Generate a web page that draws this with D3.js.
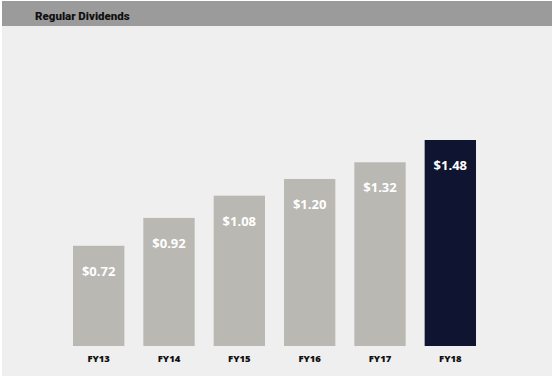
<!DOCTYPE html>
<meta charset="utf-8">
<style>
body { margin: 0; background: #fff; }
text.value {
  font-family: "Open Sans", sans-serif;
  font-weight: 700;
  font-size: 13px;
  fill: #fff;
}
text.tick {
  font-family: "Open Sans", sans-serif;
  font-weight: 800;
  font-size: 9.5px;
  fill: #111;
}
text.title {
  font-family: Roboto, sans-serif;
  font-weight: 900;
  font-size: 11.5px;
  fill: #111;
}
</style>
<svg width="552" height="376"></svg>
<script src="https://cdn.jsdelivr.net/npm/d3@7"></script>
<script>
const years = ["FY13", "FY14", "FY15", "FY16", "FY17", "FY18"]
const dividends = [0.72, 0.92, 1.08, 1.20, 1.32, 1.48]
const highlight = "FY18"

const data = years.map((y, i) => ({year: y, value: dividends[i]}))

var svg = d3.select("svg"),
    width = +svg.attr("width"),
    height = +svg.attr("height")

// panel background
svg.append("rect")
    .attr("x", 2).attr("y", 1)
    .attr("width", width - 2).attr("height", height - 1)
    .attr("fill", "#efefef")

// header band
svg.append("rect")
    .attr("x", 2).attr("y", 1)
    .attr("width", width - 2).attr("height", 25)
    .attr("fill", "#9c9b9b")

svg.append("text")
    .classed("title", true)
    .attr("x", 35)
    .attr("y", 20)
    .text("Regular Dividends")

var x = d3.scaleBand()
    .domain(years)
    .range([73, 476])
    .paddingInner(0.27)
    .paddingOuter(0)

var y = d3.scaleLinear()
    .domain([0, 1.48])
    .range([346, 140])

const bars = svg.append("g")
  .selectAll("g")
  .data(data)
  .enter().append("g")

bars.append("rect")
    .attr("x", d => x(d.year))
    .attr("y", d => y(d.value))
    .attr("width", x.bandwidth())
    .attr("height", d => y(0) - y(d.value))
    .attr("fill", d => d.year === highlight ? "#0f1530" : "#b9b8b3")

bars.append("text")
    .classed("value", true)
    .attr("x", d => x(d.year) + x.bandwidth() / 2)
    .attr("y", d => y(d.value) + 30)
    .attr("text-anchor", "middle")
    .text(d => "$" + d.value.toFixed(2))

// category labels
svg.append("g")
  .selectAll("text")
  .data(years)
  .enter().append("text")
    .classed("tick", true)
    .attr("x", d => x(d) + x.bandwidth() / 2)
    .attr("y", 362)
    .attr("text-anchor", "middle")
    .text(d => d)
</script>
